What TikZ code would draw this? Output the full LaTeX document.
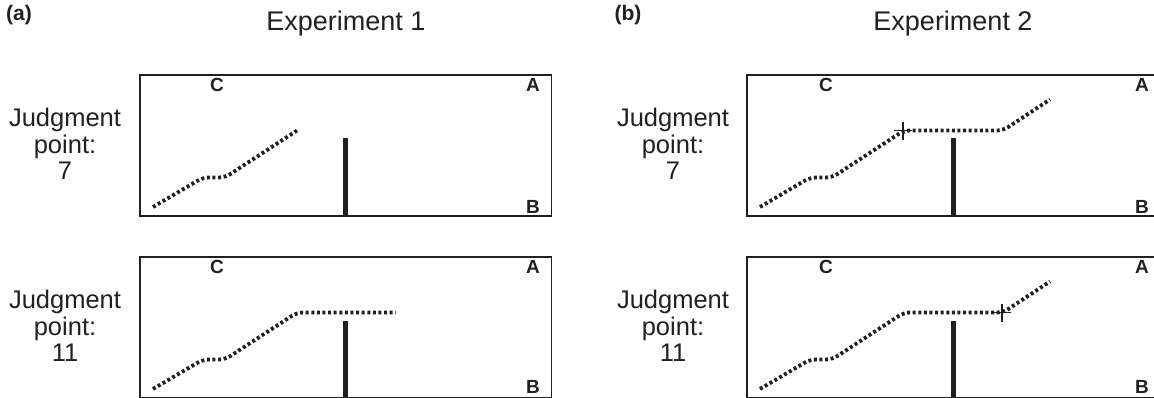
\documentclass[tikz,border=0pt]{standalone}
\usepackage{fontspec}
\setmainfont{Liberation Sans}
\definecolor{ink}{HTML}{231F20}
\begin{document}
\begin{tikzpicture}[x=1pt,y=-1pt,
 panel/.style={draw=ink, line width=1.3pt, minimum width=411.7pt, minimum height=141pt, inner sep=0pt, outer sep=0pt, anchor=north west},
 corner/.style={font=\bfseries\fontsize{19}{19}\selectfont, text=ink, inner sep=0pt},
 judg/.style={align=center, font=\fontsize{25.5}{26.5}\selectfont, text=ink, inner sep=0pt},
 title/.style={font=\fontsize{27}{27}\selectfont, text=ink, inner sep=0pt},
 tag/.style={font=\bfseries\fontsize{21}{21}\selectfont, text=ink, inner sep=0pt},
 bar/.style={line width=5pt, draw=ink},
 trail/.style={draw=ink, line width=3.8pt, dash pattern=on 3pt off 2.6pt, rounded corners=6pt},
 cross/.style={draw=ink, line width=1.3pt}]
\useasboundingbox (0,0) rectangle (1154,397);
\clip (0,0) rectangle (1154,397);

% headings
\node[tag] (taga) at (19,15) {(a)};
\node[tag] (tagb) at (628,15) {(b)};
\node[title] (tit1) at (346,24) {Experiment 1};
\node[title] (tit2) at (953,24) {Experiment 2};

% row labels
\node[judg] (ja1) at (65,144) {Judgment\\point:\\7};
\node[judg] (ja2) at (65,326) {Judgment\\point:\\11};
\node[judg] (jb1) at (673,144) {Judgment\\point:\\7};
\node[judg] (jb2) at (673,326) {Judgment\\point:\\11};

% panels
\node[panel] (pa1) at (140,75) {};
\node[panel] (pa2) at (140,257) {};
\node[panel] (pb1) at (747,75) {};
\node[panel] (pb2) at (747,257) {};

% panel a1
\begin{scope}[shift={(140,75)}]
  \node[corner] (ca1) at (77,10) {C};
  \node[corner] (aa1) at (393,10) {A};
  \node[corner] (ba1) at (393,132) {B};
  \draw[bar] (205.5,141) -- (205.5,63);
  \draw[trail] (13,132) -- (63,102.5) -- (85,102.5) -- (157,55.5);
\end{scope}

% panel a2
\begin{scope}[shift={(140,257)}]
  \node[corner] (ca2) at (77,10) {C};
  \node[corner] (aa2) at (393,10) {A};
  \node[corner] (ba2) at (393,130) {B};
  \draw[bar] (205.5,141) -- (205.5,63.5);
  \draw[trail] (13,132) -- (63,102.5) -- (85,102.5) -- (157,55.5) -- (256,55.5);
\end{scope}

% panel b1
\begin{scope}[shift={(747,75)}]
  \node[corner] (cb1) at (79,10) {C};
  \node[corner] (ab1) at (395,10) {A};
  \node[corner] (bb1) at (395,132) {B};
  \draw[bar] (206,141) -- (206,63);
  \draw[trail] (13,132) -- (63,102.5) -- (85,102.5) -- (157,55.5) -- (256,55.5) -- (303,24.5);
  \coordinate (xb1) at (156,55.5);
  \draw[cross] ([xshift=-9pt]xb1) -- ([xshift=9pt]xb1);
  \draw[cross] ([yshift=-9pt]xb1) -- ([yshift=9pt]xb1);
\end{scope}

% panel b2
\begin{scope}[shift={(747,257)}]
  \node[corner] (cb2) at (79,10) {C};
  \node[corner] (ab2) at (395,10) {A};
  \node[corner] (bb2) at (395,130) {B};
  \draw[bar] (206,141) -- (206,63.5);
  \draw[trail] (13,132) -- (63,102.5) -- (85,102.5) -- (157,55.5) -- (256,55.5) -- (303,24.5);
  \coordinate (xb2) at (255,55.5);
  \draw[cross] ([xshift=-9pt]xb2) -- ([xshift=9pt]xb2);
  \draw[cross] ([yshift=-9pt]xb2) -- ([yshift=9pt]xb2);
\end{scope}
\end{tikzpicture}
\end{document}
